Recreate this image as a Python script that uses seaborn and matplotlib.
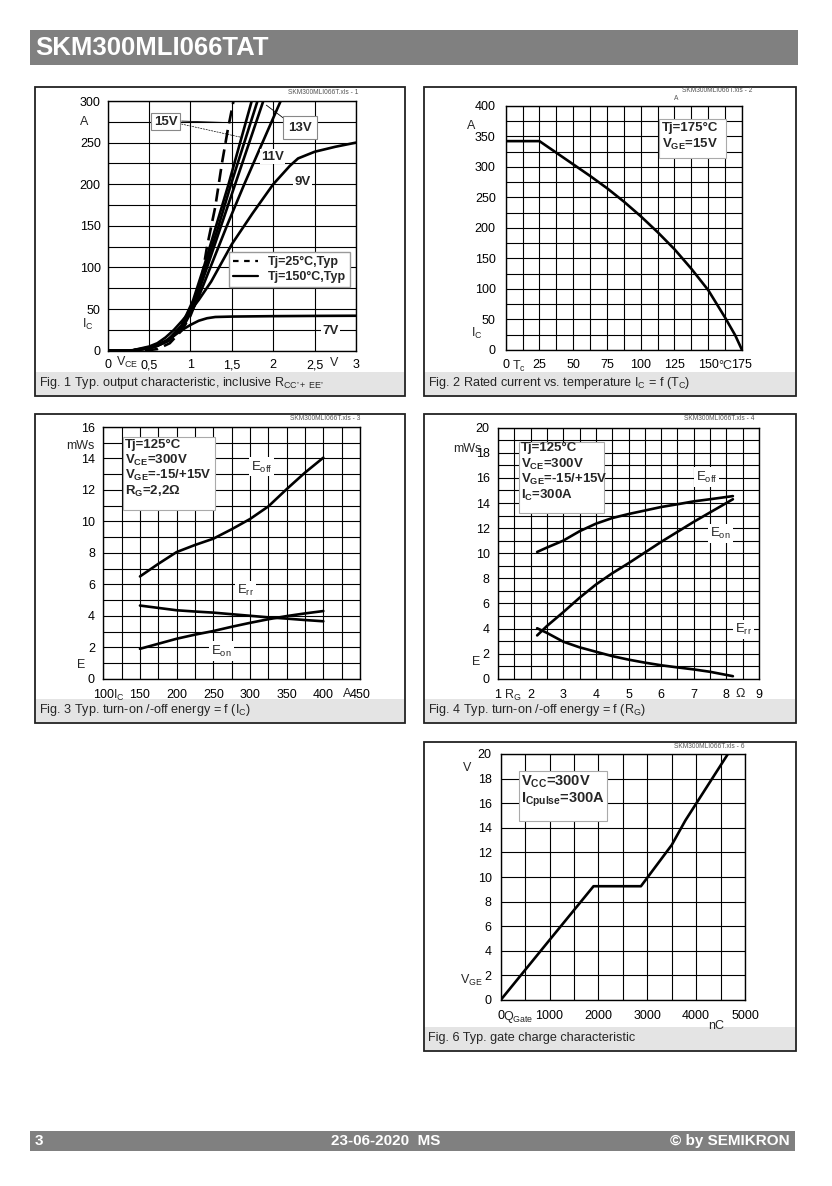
import seaborn as sns
import matplotlib
matplotlib.use("Agg")
import matplotlib.pyplot as plt
from matplotlib.patches import Rectangle
from matplotlib.lines import Line2D
from matplotlib.ticker import MultipleLocator, FuncFormatter
from matplotlib.transforms import offset_copy

# Fig. 1 - output characteristic, IC [A] over VCE [V]
ic_steps = [0, 0.3, 3, 6, 12, 30, 60, 100, 150, 200, 250, 300]
vce_17v = [0, 0.3, 0.5, 0.6, 0.72, 0.89, 1.03, 1.16, 1.31, 1.46, 1.60, 1.74]
vce_15v = [0, 0.3, 0.5, 0.6, 0.72, 0.90, 1.05, 1.18, 1.34, 1.49, 1.65, 1.81]
vce_13v = [0, 0.3, 0.5, 0.6, 0.73, 0.91, 1.06, 1.20, 1.37, 1.54, 1.71, 1.88]
vce_11v = [0, 0.3, 0.5, 0.6, 0.74, 0.92, 1.08, 1.24, 1.44, 1.65, 1.87, 2.09]
vce_9v = [0, 0.3, 0.5, 0.6, 0.7, 0.8, 0.9, 1.0, 1.1, 1.25, 1.5, 1.75, 2.0, 2.2, 2.3, 2.5, 2.75, 3.0]
ic_9v = [0, 0.5, 5, 9, 16, 25, 36, 48, 61, 83, 128, 165, 200, 222, 231, 239, 245, 250]
vce_7v = [0, 0.3, 0.5, 0.6, 0.7, 0.8, 0.9, 1.0, 1.1, 1.2, 1.3, 1.5, 2.0, 2.5, 3.0]
ic_7v = [0, 0.5, 4, 7, 12, 18, 25, 31, 36, 39, 40.5, 41, 41.5, 41.8, 42]
vce_25c = [0.45, 0.6, 0.75, 0.9, 1.0, 1.06, 1.14, 1.2, 1.3, 1.38, 1.45, 1.52]
ic_25c = [0, 2, 9, 25, 42, 57, 89, 125, 173, 225, 265, 300]

# Fig. 2 - rated current over case temperature
tc = [0, 25, 37.5, 50, 62.5, 75, 87.5, 100, 112.5, 125, 137.5, 150, 162.5, 170, 175]
ic_rated = [342, 342, 323, 304, 285, 265, 243, 219, 193, 165, 133, 98, 53, 24, 0]

# Fig. 3 - switching energy over IC
ic_sw = [150, 175, 200, 225, 250, 275, 300, 325, 350, 375, 400]
eoff_ic = [6.5, 7.3, 8.05, 8.5, 8.9, 9.5, 10.15, 10.95, 12.05, 13.1, 14.05]
err_ic = [4.65, 4.5, 4.35, 4.27, 4.2, 4.1, 4.0, 3.9, 3.82, 3.73, 3.65]
eon_ic = [1.9, 2.22, 2.54, 2.8, 3.03, 3.3, 3.55, 3.78, 3.98, 4.15, 4.3]

# Fig. 4 - switching energy over RG
rg = [2.2, 2.5, 3, 3.5, 4, 4.5, 5, 5.5, 6, 6.5, 7, 7.5, 8.2]
eoff_rg = [10.1, 10.45, 11.0, 11.75, 12.35, 12.8, 13.12, 13.4, 13.68, 13.9, 14.13, 14.3, 14.55]
eon_rg = [3.45, 4.2, 5.3, 6.45, 7.5, 8.4, 9.2, 10.05, 10.9, 11.7, 12.5, 13.25, 14.3]
err_rg = [4.02, 3.65, 2.95, 2.5, 2.15, 1.8, 1.52, 1.28, 1.07, 0.9, 0.74, 0.55, 0.2]

# Fig. 6 - gate charge
qgate = [0, 1000, 1900, 2870, 3500, 3780, 4650]
vge = [0, 4.88, 9.25, 9.25, 12.6, 14.6, 20.0]

W, H = 832, 1186
sns.set_style("white")
plt.rcParams["font.family"] = ["Liberation Sans", "DejaVu Sans"]
plt.rcParams["mathtext.fontset"] = "custom"
plt.rcParams["mathtext.rm"] = "Liberation Sans"
plt.rcParams["mathtext.it"] = "Liberation Sans"
plt.rcParams["mathtext.bf"] = "Liberation Sans:bold"
plt.rcParams["mathtext.default"] = "regular"

fig = plt.figure(figsize=(W / 100, H / 100), dpi=100)
bg = fig.add_axes([0, 0, 1, 1], zorder=-1)
bg.set_xlim(0, W)
bg.set_ylim(H, 0)
bg.axis("off")

GRAY = "#808080"
# header / footer
bg.add_patch(Rectangle((30, 30), 768, 35, fc=GRAY, ec="none"))
bg.text(35, 48, "SKM300MLI066TAT", color="white", fontsize=18.5, weight="bold", va="center")
bg.add_patch(Rectangle((30, 1131), 765, 20, fc=GRAY, ec="none"))
bg.text(35, 1141, "3", color="white", fontsize=11, weight="bold", va="center")
bg.text(386, 1141, "23-06-2020  MS", color="white", fontsize=11, weight="bold", va="center", ha="center")
bg.text(790, 1141, "© by SEMIKRON", color="white", fontsize=11, weight="bold", va="center", ha="right")

panels = [
    ((35, 87, 405, 396), "Fig. 1 Typ. output characteristic, inclusive R$_{CC\u2019+\\ EE\u2019}$", (358, 92, "SKM300MLI066T.xls - 1")),
    ((424, 87, 796, 396), "Fig. 2 Rated current vs. temperature I$_C$ = f (T$_C$)", (752, 91, "SKM300MLI066T.xls - 2")),
    ((35, 414, 405, 723), "Fig. 3 Typ. turn-on /-off energy = f (I$_C$)", (360, 418, "SKM300MLI066T.xls - 3")),
    ((424, 414, 796, 723), "Fig. 4 Typ. turn-on /-off energy = f (R$_G$)", (754, 419, "SKM300MLI066T.xls - 4")),
    ((424, 742, 796, 1051), "Fig. 6 Typ. gate charge characteristic", (744, 746, "SKM300MLI066T.xls - 6")),
]
for (x0, y0, x1, y1), cap, (rx, ry, rs) in panels:
    bg.add_patch(Rectangle((x0 + 1, y1 - 24), x1 - x0 - 2, 22.5, fc="#e4e4e4", ec="none"))
    bg.add_patch(Rectangle((x0, y0), x1 - x0, y1 - y0, fc="none", ec="#222222", lw=1.3))
    bg.text(x0 + 4, y1 - 13, cap, fontsize=9.1, va="center")
    bg.text(rx, ry, rs, fontsize=4.8, color="#555555", ha="right", va="center")
bg.text(676, 99, "A", fontsize=4.8, color="#555555", ha="center", va="center")


def rect(x0, y0, x1, y1):
    return [x0 / W, 1 - y1 / H, (x1 - x0) / W, (y1 - y0) / H]


def curve(ax, x, y, **kw):
    sns.lineplot(x=x, y=y, ax=ax, color="black", linewidth=1.9, estimator=None, sort=False, **kw)


def style(ax, xlim, ylim, xstep, ystep, xminor=None, yminor=None, xpad=6.5, ypad=6):
    ax.set_xlim(*xlim)
    ax.set_ylim(*ylim)
    ax.xaxis.set_major_locator(MultipleLocator(xstep))
    ax.yaxis.set_major_locator(MultipleLocator(ystep))
    if xminor:
        ax.xaxis.set_minor_locator(MultipleLocator(xminor))
    if yminor:
        ax.yaxis.set_minor_locator(MultipleLocator(yminor))
    fmt = FuncFormatter(lambda v, p: f"{v:g}".replace(".", ","))
    ax.xaxis.set_major_formatter(fmt)
    ax.yaxis.set_major_formatter(fmt)
    ax.grid(True, which="both", color="black", linewidth=0.8)
    ax.tick_params(which="both", length=0, labelsize=9, colors="black")
    ax.tick_params(axis="x", pad=xpad)
    ax.tick_params(axis="y", pad=ypad)
    for s in ax.spines.values():
        s.set_visible(True)
        s.set_color("black")
        s.set_linewidth(1.0)
    ax.set_xlabel("")
    ax.set_ylabel("")


def ylab(ax, y, s, dx, ha="right", **kw):
    tr = offset_copy(ax.get_yaxis_transform(), fig=fig, x=dx, y=0, units="dots")
    ax.text(0, y, s, transform=tr, ha=ha, va="center", fontsize=9, **kw)


def xlab(ax, x, s, dy, ha="center", **kw):
    tr = offset_copy(ax.get_xaxis_transform(), fig=fig, x=0, y=-dy, units="dots")
    ax.text(x, 0, s, transform=tr, ha=ha, va="center", fontsize=9, **kw)


def note_box(ax, x, y, w, h):
    ax.add_patch(Rectangle((x, y), w, h, fc="white", ec="#aaaaaa", lw=0.8, zorder=3))


bold = dict(fontsize=9.5, weight="bold", va="center", zorder=4)
elab = dict(fontsize=9.5, ha="center", va="center", zorder=4,
            bbox=dict(boxstyle="square,pad=0.15", fc="white", ec="none"))

# ---------------- Fig. 1 ----------------
ax1 = fig.add_axes(rect(107.7, 101, 356, 350.7))
for v in (vce_17v, vce_15v, vce_13v, vce_11v):
    curve(ax1, v, ic_steps)
curve(ax1, vce_9v, ic_9v)
curve(ax1, vce_7v, ic_7v)
curve(ax1, vce_25c, ic_25c, linestyle=(0, (5, 2.5)))
style(ax1, (0, 3), (0, 300), 0.5, 50, yminor=25, xpad=6, ypad=5)
ylab(ax1, 275, "A", -27.7, ha="left")
ylab(ax1, 31, "I$_C$", -26, ha="left")
xlab(ax1, 0.24, "V$_{CE}$", 12)
xlab(ax1, 2.74, "V", 12)
ax1.annotate("", xy=(1.47, 274), xytext=(0.86, 276),
             arrowprops=dict(arrowstyle="-", color="black", lw=0.6), zorder=4)
ax1.annotate("", xy=(1.63, 256), xytext=(0.86, 273),
             arrowprops=dict(arrowstyle="-", color="black", lw=0.5, linestyle=(0, (2, 2))), zorder=4)
ax1.annotate("", xy=(1.89, 297), xytext=(2.17, 276),
             arrowprops=dict(arrowstyle="-", color="black", lw=0.6), zorder=4)
ax1.text(0.70, 275, "15V", ha="center", bbox=dict(boxstyle="square,pad=0.2", fc="white", ec="#888888", lw=0.8), **bold)
ax1.text(2.32, 268, "13V", ha="center", bbox=dict(boxstyle="square,pad=0.4", fc="white", ec="#888888", lw=0.8), **bold)
for x, y, s in [(1.99, 233, "11V"), (2.35, 203, "9V"), (2.69, 24, "7V")]:
    ax1.text(x, y, s, ha="center", bbox=dict(boxstyle="square,pad=0.1", fc="white", ec="none"), **bold)
handles = [Line2D([], [], color="black", lw=1.6, linestyle=(0, (2.5, 2.5))),
           Line2D([], [], color="black", lw=1.6)]
ax1.legend(handles, ["Tj=25°C,Typ", "Tj=150°C,Typ"], loc="upper left", bbox_to_anchor=(0.487, 0.397),
           frameon=True, fancybox=False, edgecolor="#999999", framealpha=1,
           prop={"weight": "bold", "size": 9}, handlelength=2.0, borderpad=0.35,
           labelspacing=0.25, borderaxespad=0, handletextpad=0.8)

# ---------------- Fig. 2 ----------------
ax2 = fig.add_axes(rect(505.7, 105.7, 742, 350))
curve(ax2, tc, ic_rated)
style(ax2, (0, 175), (0, 400), 25, 50, xminor=12.5, yminor=25, xpad=6.6, ypad=7.2)
ylab(ax2, 366, "A", -38.7, ha="left")
ylab(ax2, 27, "I$_C$", -35, ha="left")
xlab(ax2, 9.5, "T$_c$", 16)
xlab(ax2, 162.5, "°C", 16)
note_box(ax2, 113.5, 314.7, 49.4, 64.3)
ax2.text(115.5, 364, "Tj=175°C", ha="left", **bold)
ax2.text(115.5, 337, "V$_{\\mathbf{GE}}$=15V", ha="left", **bold)

# ---------------- Fig. 3 ----------------
ax3 = fig.add_axes(rect(103.3, 427, 360, 678.7))
curve(ax3, ic_sw, eoff_ic)
curve(ax3, ic_sw, err_ic)
curve(ax3, ic_sw, eon_ic)
style(ax3, (100, 450), (0, 16), 50, 2, xminor=25, yminor=1, xpad=7.3, ypad=6)
ylab(ax3, 14.8, "mWs", -8.3)
ylab(ax3, 0.85, "E", -21.8, ha="center")
xlab(ax3, 120.5, "I$_C$", 17)
xlab(ax3, 432, "A", 15)
note_box(ax3, 127, 10.7, 125, 4.66)
for y, s in [(14.83, "Tj=125°C"), (13.88, "V$_{\\mathbf{CE}}$=300V"),
             (12.9, "V$_{\\mathbf{GE}}$=-15/+15V"), (11.9, "R$_{\\mathbf{G}}$=2,2Ω")]:
    ax3.text(129.5, y, s, ha="left", **bold)
ax3.text(316, 13.46, "E$_{off}$", **elab)
ax3.text(294, 5.6, "E$_{rr}$", **elab)
ax3.text(261, 1.76, "E$_{on}$", **elab)

# ---------------- Fig. 4 ----------------
ax4 = fig.add_axes(rect(498, 427.7, 759, 678.7))
curve(ax4, rg, eoff_rg)
curve(ax4, rg, eon_rg)
curve(ax4, rg, err_rg)
style(ax4, (1, 9), (0, 20), 1, 2, xminor=0.5, yminor=1, xpad=7.3, ypad=6)
ylab(ax4, 18.3, "mWs", -16)
ylab(ax4, 1.33, "E", -22, ha="center")
xlab(ax4, 1.46, "R$_G$", 17)
xlab(ax4, 8.43, "Ω", 15)
note_box(ax4, 1.64, 13.2, 2.61, 5.7)
for y, s in [(18.38, "Tj=125°C"), (17.05, "V$_{\\mathbf{CE}}$=300V"),
             (15.86, "V$_{\\mathbf{GE}}$=-15/+15V"), (14.6, "I$_{\\mathbf{C}}$=300A")]:
    ax4.text(1.69, y, s, ha="left", **bold)
ax4.text(7.39, 16.07, "E$_{off}$", **elab)
ax4.text(7.82, 11.55, "E$_{on}$", **elab)
ax4.text(8.52, 3.93, "E$_{rr}$", **elab)

# ---------------- Fig. 6 ----------------
ax6 = fig.add_axes(rect(500.7, 754, 745, 1000))
curve(ax6, qgate, vge)
style(ax6, (0, 5000), (0, 20), 1000, 2, xminor=500, xpad=7.5, ypad=6.5)
ylab(ax6, 18.9, "V", -34, ha="center")
ylab(ax6, 1.55, "V$_{GE}$", -29.3, ha="center")
xlab(ax6, 50, "Q$_{Gate}$", 17.3, ha="left")
xlab(ax6, 4417, "nC", 26)
note_box(ax6, 375, 14.58, 1808, 4.06)
big = dict(bold, fontsize=10.5)
ax6.text(409, 17.75, "V$_{\\mathbf{CC}}$=300V", ha="left", **big)
ax6.text(409, 16.26, "I$_{\\mathbf{Cpulse}}$=300A", ha="left", **big)

fig.savefig("out.png", dpi=100)
